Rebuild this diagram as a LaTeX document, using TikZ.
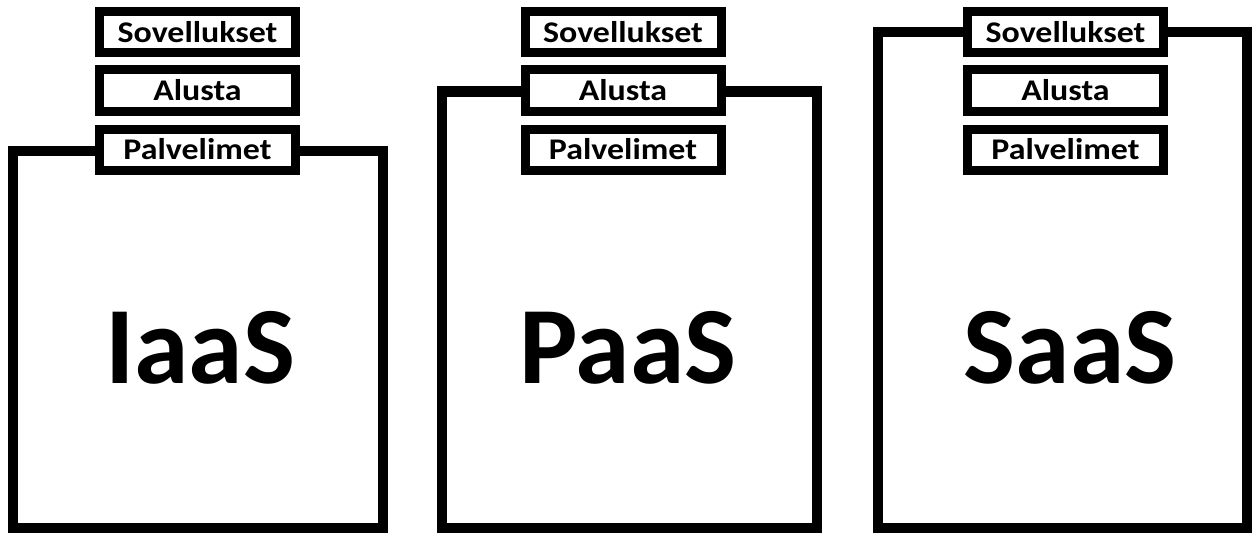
\documentclass[tikz,border=0pt]{standalone}
\usepackage{fontspec}
\setmainfont{Carlito}
\newfontfamily\layerfont[FakeStretch=1.13]{Carlito}
\usepackage{tikz}

\tikzset{
  layer/.style={draw, fill=white, line width=9pt, minimum width=196pt, minimum height=41pt,
    inner sep=0pt, font=\layerfont\fontsize{30}{32}\selectfont\bfseries},
  cloudbox/.style={line width=10pt},
  model/.style={anchor=base, inner sep=0pt, font=\fontsize{110}{120}\selectfont\bfseries}
}

\begin{document}
\begin{tikzpicture}[x=1pt, y=-1pt]
\useasboundingbox (0,0) rectangle (1256,535);
% outer frames
\draw [cloudbox] (13,150.5) rectangle (383,528);
\draw [cloudbox] (442,91.5) rectangle (817,528);
\draw [cloudbox] (878,32) rectangle (1247,528);
% layer boxes, first column
\node [layer] (sov1) at (197.5,32) {Sovellukset};
\node [layer] (alu1) at (197.5,90.5) {Alusta};
\node [layer] (pal1) at (197.5,149.5) {Palvelimet};
% second column
\node [layer] (sov2) at (623,32) {Sovellukset};
\node [layer] (alu2) at (623,90.5) {Alusta};
\node [layer] (pal2) at (623,149.5) {Palvelimet};
% third column
\node [layer] (sov3) at (1065.5,32) {Sovellukset};
\node [layer] (alu3) at (1065.5,90.5) {Alusta};
\node [layer] (pal3) at (1065.5,149.5) {Palvelimet};
% model names
\node [model] (iaas) at (200,383) {IaaS};
\node [model] (paas) at (628,383) {PaaS};
\node [model] (saas) at (1070,383) {SaaS};
\end{tikzpicture}
\end{document}
